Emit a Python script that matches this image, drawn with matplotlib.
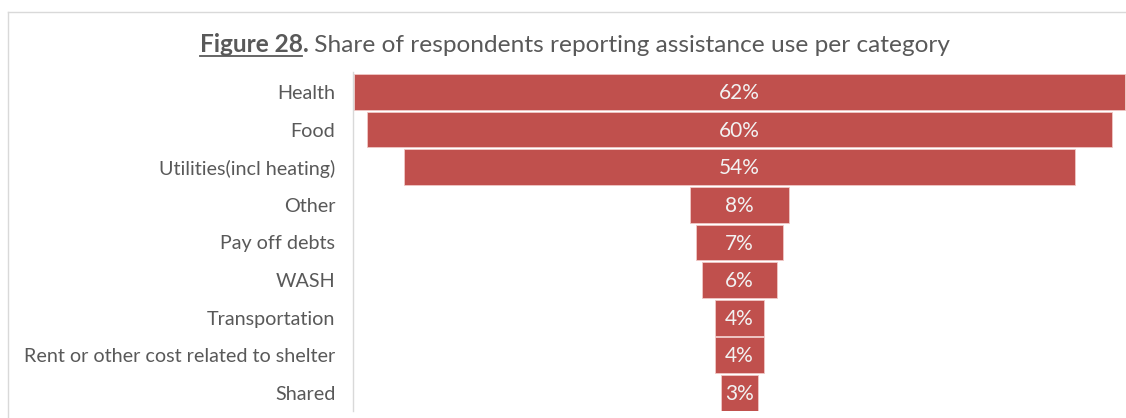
import matplotlib
matplotlib.use("Agg")
import matplotlib.pyplot as plt
from matplotlib.lines import Line2D

categories = ["Health", "Food", "Utilities(incl heating)", "Other", "Pay off debts",
              "WASH", "Transportation", "Rent or other cost related to shelter", "Shared"]
shares = [62, 60, 54, 8, 7, 6, 4, 4, 3]

plt.rcParams["font.family"] = ["Lato", "DejaVu Sans"]

W, H = 1126, 418
fig = plt.figure(figsize=(W / 100, H / 100), dpi=100)
fig.patch.set_facecolor("white")

ax = fig.add_axes([353 / W, 1 - 411 / H, (W - 353) / W, (411 - 72) / H])

bar_color = "#C0504D"
ypos = list(range(len(categories)))
lefts = [-v / 2 for v in shares]
ax.barh(ypos, shares, left=lefts, height=0.95, color=bar_color,
        edgecolor="#F0C8C6", linewidth=0.6)

for y, v in zip(ypos, shares):
    ax.text(0, y + 0.03, f"{v}%", ha="center", va="center", color="#F2F2F2", fontsize=15)

ax.set_xlim(-31.1, 31.1)
ax.set_ylim(len(categories) - 0.52, -0.53)
ax.set_yticks(ypos)
ax.set_yticklabels(categories, fontsize=14.2, color="#595959")
ax.tick_params(axis="y", length=0, pad=12.6)
ax.set_xticks([])
for side in ["top", "right", "bottom"]:
    ax.spines[side].set_visible(False)
ax.spines["left"].set_color("#D9D9D9")
ax.spines["left"].set_linewidth(1.0)

# Title: bold, underlined figure number followed by regular text
title_color = "#595959"
fig.canvas.draw()
renderer = fig.canvas.get_renderer()
t1 = fig.text(0, 1 - 45 / H, "Figure 28.", fontsize=17.6, fontweight="bold",
              color=title_color, va="center")
t2 = fig.text(0, 1 - 45 / H, " Share of respondents reporting assistance use per category",
              fontsize=17.6, color=title_color, va="center")
w1 = t1.get_window_extent(renderer).width
w2 = t2.get_window_extent(renderer).width
x0 = 575 - (w1 + w2) / 2
t1.set_x(x0 / W)
t2.set_x((x0 + w1) / W)
bb = t1.get_window_extent(renderer)
uy = bb.y0 + 1
fig.add_artist(Line2D([x0 / W, (x0 + w1 - 6) / W], [uy / H, uy / H],
                      color=title_color, linewidth=1.3, transform=fig.transFigure))

# Chart border
border = "#D9D9D9"
fig.add_artist(Line2D([8 / W, 1.0], [1 - 12 / H, 1 - 12 / H], color=border,
                      linewidth=1.0, transform=fig.transFigure))
fig.add_artist(Line2D([8 / W, 8 / W], [1 - 12 / H, 0], color=border,
                      linewidth=1.0, transform=fig.transFigure))

fig.savefig("out.png", dpi=100)
